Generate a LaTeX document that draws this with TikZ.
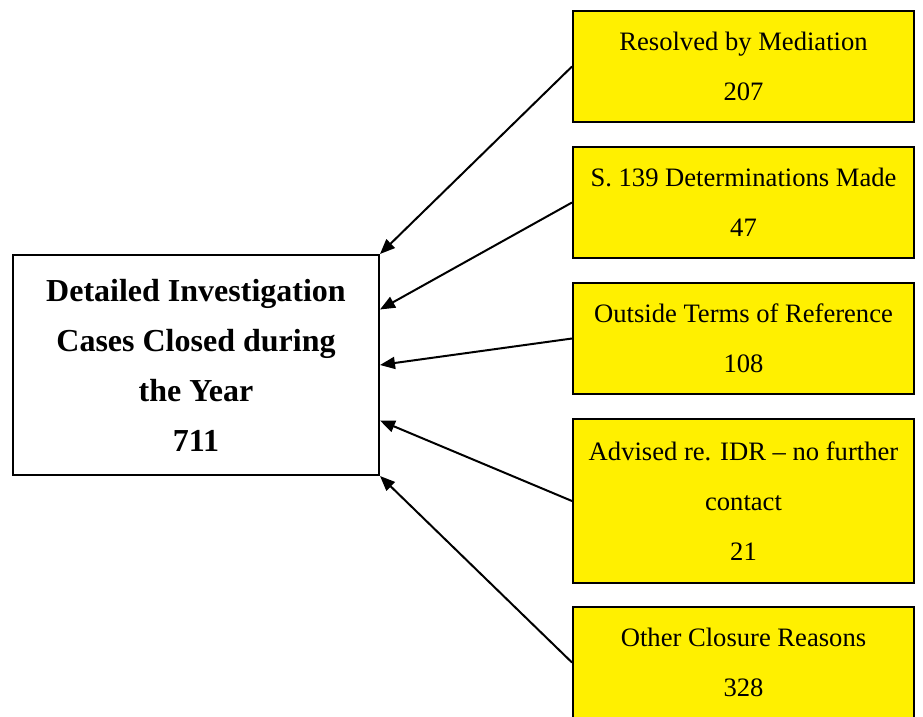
\documentclass[tikz,border=0pt]{standalone}
\usepackage{fontspec}
\setmainfont{Liberation Serif}
\usetikzlibrary{arrows.meta,calc}
\definecolor{boxyellow}{RGB}{255,240,0}
\begin{document}
\begin{tikzpicture}[x=1pt,y=-1pt,
  leaf/.style={draw, line width=2pt, fill=boxyellow, minimum width=341pt, minimum height=111pt,
    align=center, inner sep=0pt, font=\fontsize{26.6}{50}\selectfont},
  hub/.style={draw, line width=2pt, fill=white, minimum width=366pt, minimum height=220pt,
    align=center, inner sep=0pt, font=\bfseries\fontsize{32}{50}\selectfont},
  link/.style={line width=2pt, -{Triangle[length=15pt,width=12pt]}}]
\useasboundingbox (0,0) rectangle (923,716);
\clip (0,0) rectangle (923,716);
\node[hub] (hub) at (196,365) {Detailed Investigation\\Cases Closed during\\the Year\\711};
\node[leaf] (r1) at (743.5,66.5) {Resolved by Mediation\\207};
\node[leaf] (r2) at (743.5,202.5) {S. 139 Determinations Made\\47};
\node[leaf] (r3) at (743.5,338.5) {Outside Terms of Reference\\108};
\node[leaf, minimum height=164pt] (r4) at (743.5,501) {Advised re. IDR -- no further\\contact\\21};
\node[leaf] (r5) at (743.5,662.5) {Other Closure Reasons\\328};
\coordinate (e1) at (hub.north east);
\coordinate (e2) at ($(hub.north east)!0.25!(hub.south east)$);
\coordinate (e3) at ($(hub.north east)!0.5!(hub.south east)$);
\coordinate (e4) at ($(hub.north east)!0.75!(hub.south east)$);
\coordinate (e5) at (hub.south east);
\draw[link] (r1.west) -- (e1);
\draw[link] (r2.west) -- (e2);
\draw[link] (r3.west) -- (e3);
\draw[link] (r4.west) -- (e4);
\draw[link] (r5.west) -- (e5);
\end{tikzpicture}
\end{document}
